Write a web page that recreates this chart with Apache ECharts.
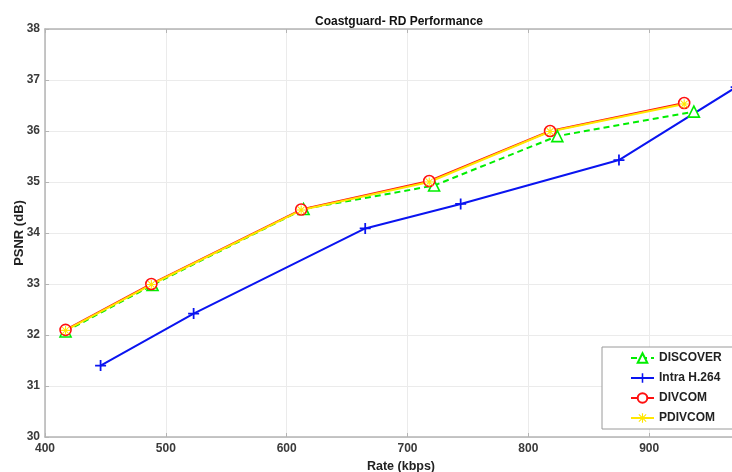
<!DOCTYPE html>
<html>
<head>
<meta charset="utf-8">
<script src="https://cdn.jsdelivr.net/npm/echarts@6/dist/echarts.min.js"></script>
<style>
  html, body { margin: 0; padding: 0; background: #fff; }
  #chart { width: 732px; height: 472px; }
</style>
</head>
<body>
<div id="chart"></div>
<script>
// values
const seriesNames = ['DISCOVER', 'Intra H.264', 'DIVCOM', 'PDIVCOM'];

const discoverRate = [417, 489, 614, 722, 824, 937];
const discoverPsnr = [32.07, 32.98, 34.47, 34.93, 35.9, 36.38];

const intraRate = [446, 523, 665, 744, 875, 972];
const intraPsnr = [31.4, 32.42, 34.09, 34.57, 35.43, 36.86];

const divcomRate = [417, 488, 612, 718, 818, 929];
const divcomPsnr = [32.1, 33.0, 34.46, 35.02, 36.0, 36.55];

const pdivcomRate = [417, 488, 612, 718, 818, 929];
const pdivcomPsnr = [32.09, 32.99, 34.45, 35.0, 35.99, 36.53];

const xTicks = [400, 500, 600, 700, 800, 900, 1000];
const yTicks = [30, 31, 32, 33, 34, 35, 36, 37, 38];

function pairs(xs, ys) {
    return xs.map((x, i) => [x, ys[i]]);
}

const FONT = 'Liberation Sans';
const plusPath = 'path://M4.2,0h1.6v4.2h4.2v1.6h-4.2v4.2h-1.6v-4.2h-4.2v-1.6h4.2z';
const starPath = 'path://M4.4,0h1.2v10h-1.2z M0,4.4h10v1.2h-10z M0.8,1.6L1.6,0.8L9.2,8.4L8.4,9.2z M8.4,0.8L9.2,1.6L1.6,9.2L0.8,8.4z';

const chart = echarts.init(document.getElementById('chart'), null, { renderer: 'canvas' });

const axisLabel = { color: '#3a3a3a', fontFamily: FONT, fontSize: 12, fontWeight: 'bold' };

chart.setOption({
    animation: false,
    backgroundColor: '#ffffff',
    title: [
        {
            text: 'Coastguard- RD Performance',
            left: 394, top: 11, textAlign: 'center',
            textStyle: { fontFamily: FONT, fontSize: 12, fontWeight: 'bold', color: '#111' }
        },
        {
            text: 'Rate (kbps)',
            left: 396, top: 455, textAlign: 'center',
            textStyle: { fontFamily: FONT, fontSize: 12.5, fontWeight: 'bold', color: '#222' }
        }
    ],
    grid: { left: 45, top: 29, right: -38, bottom: 35, outerBoundsMode: 'none' },
    legend: {
        data: seriesNames,
        orient: 'vertical',
        left: 602, top: 347,
        itemWidth: 23, itemHeight: 12, itemGap: 8,
        padding: [5, 70, 5, 28],
        borderColor: '#9a9a9a', borderWidth: 1,
        backgroundColor: '#ffffff',
        textStyle: { fontFamily: FONT, fontSize: 12, fontWeight: 'bold', color: '#222' }
    },
    xAxis: [
        {
            type: 'value', min: xTicks[0], max: xTicks[xTicks.length - 1], interval: 100,
            axisLine: { show: true, lineStyle: { color: '#b4b4b4', width: 1.5 } },
            axisTick: { show: true, inside: true, length: 4, lineStyle: { color: '#b4b4b4' } },
            axisLabel: Object.assign({ margin: 6, formatter: v => String(v) }, axisLabel),
            splitLine: { show: true, lineStyle: { color: '#ebebeb', width: 1 } }
        },
        {
            type: 'value', position: 'top', min: xTicks[0], max: xTicks[xTicks.length - 1], interval: 100,
            axisLine: { show: true, lineStyle: { color: '#b4b4b4', width: 1.5 } },
            axisTick: { show: true, inside: true, length: 4, lineStyle: { color: '#b4b4b4' } },
            axisLabel: { show: false },
            splitLine: { show: false }
        }
    ],
    yAxis: {
        type: 'value', min: yTicks[0], max: yTicks[yTicks.length - 1], interval: 1,
        name: 'PSNR (dB)', nameLocation: 'middle', nameGap: 19, nameMoveOverlap: false,
        nameTextStyle: { fontFamily: FONT, fontSize: 13, fontWeight: 'bold', color: '#222' },
        axisLine: { show: true, lineStyle: { color: '#b4b4b4', width: 1.5 } },
        axisTick: { show: true, inside: true, length: 4, lineStyle: { color: '#b4b4b4' } },
        axisLabel: Object.assign({ margin: 5 }, axisLabel),
        splitLine: { show: true, lineStyle: { color: '#ebebeb', width: 1 } }
    },
    series: [
        {
            name: 'DISCOVER', type: 'line', data: pairs(discoverRate, discoverPsnr),
            symbol: 'triangle', symbolSize: 11, showAllSymbol: true,
            lineStyle: { color: '#00ee00', width: 2, type: [6, 4] },
            itemStyle: { color: '#ffffff', borderColor: '#00ee00', borderWidth: 1.6 }
        },
        {
            name: 'Intra H.264', type: 'line', data: pairs(intraRate, intraPsnr),
            symbol: plusPath, symbolSize: 11, showAllSymbol: true,
            lineStyle: { color: '#0a14f0', width: 2 },
            itemStyle: { color: '#0a14f0' }
        },
        {
            name: 'DIVCOM', type: 'line', data: pairs(divcomRate, divcomPsnr),
            symbol: 'circle', symbolSize: 11, showAllSymbol: true,
            lineStyle: { color: '#ff1010', width: 2 },
            itemStyle: { color: '#ffffff', borderColor: '#ff1010', borderWidth: 1.6 }
        },
        {
            name: 'PDIVCOM', type: 'line', data: pairs(pdivcomRate, pdivcomPsnr),
            symbol: starPath, symbolSize: 9, showAllSymbol: true,
            lineStyle: { color: '#ffe600', width: 2 },
            itemStyle: { color: '#ffe600' }
        }
    ]
});
</script>
</body>
</html>
